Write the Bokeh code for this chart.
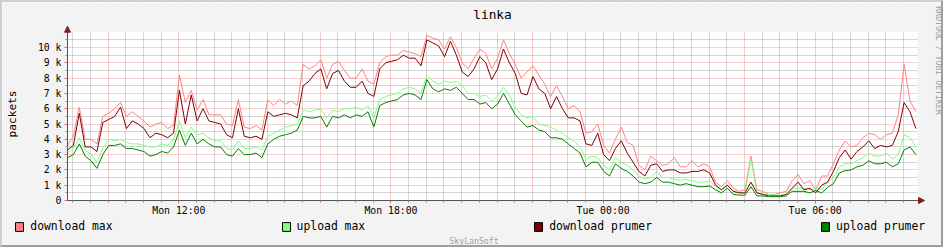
from math import pi, nan
from bokeh.plotting import figure
from bokeh.models import (Range1d, FixedTicker, Legend, LegendItem, Arrow, Label,
                          NormalHead, ColumnDataSource, BoxAnnotation)
from bokeh.embed import file_html
from bokeh.resources import INLINE

# ---------------- data (values in thousands of packets, 10-minute steps) ----------------
start_hour = 8.85          # Mon 08:51
step_hours = 1.0 / 6.0     # 10 minutes

download_max = [
    3.6, 4.2, 6.1, 4.0, 4.0, 3.7, 5.5, 5.7, 6.0, 6.4, 5.5, 5.8, 5.5, 5.2, 4.8, 5.0, 5.1, 4.7, 4.9, 8.2, 6.4, 7.2, 5.9, 6.6, 5.6,
    5.6, 5.6, 5.0, 4.9, 6.6, 4.8, 4.7, 4.9, 4.6, 6.6, 6.2, 6.6, 6.3, 6.5, 6.2, 8.9, 8.6, 8.8, 9.2, 8.0, 8.9, 9.1, 8.5, 8.0,
    8.0, 8.6, 7.8, 7.6, 9.0, 9.4, 9.5, 9.5, 9.8, 9.7, 9.6, 9.4, 10.8, 10.6, 10.5, 9.9, 10.7, 10.0, 9.0, 8.6, 9.3, 9.9, 9.6, 8.6,
    9.3, 10.5, 9.6, 8.9, 8.0, 8.4, 8.8, 8.2, 7.6, 6.8, 7.5, 6.8, 6.0, 6.2, 5.8, 4.4, 4.5, 5.0, 3.6, 3.1, 4.0, 4.8, 3.8, 3.6,
    2.3, 2.0, 2.9, 2.6, 2.3, 2.4, 2.8, 2.2, 2.2, 2.6, 2.2, 2.4, 2.2, 1.2, 0.9, 1.3, 0.8, 0.6, 0.7, 2.9, 0.7, 0.6, 0.4, 0.4,
    0.5, 0.6, 1.3, 1.7, 1.1, 1.3, 0.7, 1.6, 1.6, 2.4, 3.3, 3.9, 3.5, 3.6, 4.1, 4.4, 4.3, 4.0, 4.3, 4.4, 5.6, 8.9, 6.5, 5.8,
]
upload_max = [
    3.1, 3.4, 4.1, 3.3, 3.0, 2.5, 3.4, 4.0, 3.9, 4.0, 3.8, 3.7, 3.7, 3.6, 3.5, 3.5, 3.7, 3.6, 4.0, 5.2, 4.1, 4.8, 4.3, 4.4, 4.1,
    3.9, 3.9, 3.4, 3.3, 3.9, 3.4, 3.4, 3.5, 3.3, 4.2, 4.4, 4.6, 4.8, 4.9, 5.0, 5.9, 5.8, 5.9, 6.0, 5.4, 5.9, 5.8, 6.0, 6.0,
    6.1, 5.9, 6.2, 5.4, 6.6, 6.8, 6.9, 7.0, 7.3, 7.4, 7.3, 7.0, 8.2, 7.8, 7.6, 7.8, 7.7, 7.8, 7.5, 7.0, 7.0, 6.8, 6.9, 6.5,
    6.8, 7.4, 6.9, 6.1, 5.6, 5.4, 5.5, 5.0, 4.9, 4.8, 4.6, 4.4, 4.1, 3.9, 3.5, 2.7, 2.9, 2.8, 2.3, 2.0, 2.8, 2.5, 2.3, 2.0,
    1.6, 1.4, 1.5, 1.9, 1.5, 1.5, 1.4, 1.3, 1.4, 1.3, 1.2, 1.2, 1.3, 0.9, 0.7, 1.0, 0.6, 0.5, 0.5, 2.7, 0.5, 0.4, 0.4, 0.35,
    0.35, 0.4, 0.8, 0.8, 0.8, 0.7, 0.8, 0.7, 1.2, 1.5, 2.2, 2.4, 2.4, 2.6, 2.8, 3.1, 2.9, 2.9, 3.1, 2.7, 3.0, 4.3, 4.1, 3.5,
]
download_prumer = [
    3.3, 3.6, 5.7, 3.5, 3.5, 3.2, 5.1, 5.3, 5.5, 6.1, 4.7, 5.2, 5.0, 4.7, 4.1, 4.4, 4.3, 4.1, 4.4, 7.2, 5.0, 6.9, 5.2, 6.0, 5.2,
    5.1, 5.0, 4.3, 4.1, 6.0, 4.2, 4.1, 4.2, 4.0, 5.8, 5.5, 5.6, 5.7, 5.6, 5.4, 7.5, 7.8, 8.3, 8.6, 7.3, 8.3, 8.5, 7.8, 7.4,
    7.4, 7.8, 7.0, 6.8, 8.6, 9.0, 9.1, 9.2, 9.5, 9.3, 9.3, 8.8, 10.5, 10.3, 10.1, 9.4, 10.4, 9.5, 8.4, 8.1, 8.6, 9.4, 9.0, 7.9,
    8.6, 9.9, 9.0, 8.3, 7.0, 6.9, 8.1, 7.3, 7.0, 6.0, 6.8, 6.0, 5.4, 5.4, 5.2, 3.7, 3.6, 4.4, 3.0, 2.6, 3.4, 3.9, 3.1, 2.5,
    1.9, 1.6, 2.3, 2.4, 1.9, 2.0, 2.0, 1.8, 1.8, 1.9, 1.9, 2.0, 1.8, 1.0, 0.7, 1.0, 0.6, 0.5, 0.5, 1.2, 0.5, 0.4, 0.3, 0.3,
    0.3, 0.4, 0.8, 1.2, 0.7, 0.8, 0.5, 1.0, 1.2, 1.9, 2.8, 3.3, 2.7, 3.2, 3.5, 3.9, 3.4, 3.6, 3.5, 3.6, 4.5, 6.4, 5.8, 4.7,
]
upload_prumer = [
    2.8, 3.0, 3.7, 2.9, 2.6, 2.1, 3.0, 3.6, 3.6, 3.7, 3.4, 3.4, 3.3, 3.2, 2.9, 3.0, 3.2, 3.1, 3.5, 4.6, 3.6, 4.4, 3.7, 4.0, 3.7,
    3.5, 3.5, 3.0, 2.9, 3.4, 3.0, 3.0, 3.1, 2.8, 3.7, 4.0, 4.2, 4.3, 4.4, 4.6, 5.5, 5.4, 5.4, 5.5, 4.8, 5.5, 5.4, 5.6, 5.4,
    5.6, 5.5, 5.8, 4.8, 6.2, 6.4, 6.5, 6.6, 6.9, 7.0, 6.9, 6.6, 7.9, 7.3, 7.1, 7.3, 7.2, 7.4, 7.0, 6.6, 6.6, 6.3, 6.4, 6.0,
    6.3, 7.0, 6.3, 5.6, 5.2, 4.8, 4.9, 4.6, 4.5, 4.1, 4.1, 4.0, 3.7, 3.4, 3.1, 2.2, 2.5, 2.5, 1.9, 1.6, 2.4, 2.1, 1.9, 1.6,
    1.2, 1.1, 1.2, 1.5, 1.2, 1.2, 1.1, 1.0, 1.1, 1.0, 0.9, 0.9, 0.95, 0.7, 0.5, 0.8, 0.4, 0.35, 0.35, 0.9, 0.3, 0.3, 0.25, 0.25,
    0.25, 0.3, 0.6, 0.6, 0.6, 0.5, 0.65, 0.5, 0.85, 1.1, 1.8, 1.95, 2.0, 2.2, 2.3, 2.6, 2.4, 2.4, 2.5, 2.2, 2.4, 3.3, 3.5, 3.0,
]

legend_labels = ["download max", "upload max", "download prumer", "upload prumer"]
series_colors = ["#FF8080", "#80FF80", "#800000", "#008000"]

x_tick_hours = [12, 18, 24, 30]
x_tick_labels = ["Mon 12:00", "Mon 18:00", "Tue 00:00", "Tue 06:00"]
y_tick_values = [0, 1, 2, 3, 4, 5, 6, 7, 8, 9, 10]
y_tick_labels = ["0", "1 k", "2 k", "3 k", "4 k", "5 k", "6 k", "7 k", "8 k", "9 k", "10 k"]

title_text = "linka"
y_label = "packets"
watermark_side = "RRDTOOL / TOBI OETIKER"
watermark_bottom = "SkyLanSoft"

# ---------------- geometry / style ----------------
# The plot frame covers the whole canvas (943x247 inside a 2px 3D border);
# axes are pinned at the data origin so every text lies inside the frame.
FONT = "DejaVu Sans Mono"
BG = "#F3F3F3"
SHADE_A, SHADE_B = "#CFCFCF", "#9E9E9E"
W, H = 943, 247
px_per_hour = 35.35
px_per_k = 15.3
org_x, org_y = 65, 198             # canvas pixel of the data origin
data_w = 850
data_y_top = 11.0
data_x_end = start_hour + data_w / px_per_hour
x_lo = start_hour - org_x / px_per_hour
x_hi = start_hour + (W - org_x) / px_per_hour
y_lo = -(H - org_y) / px_per_k
y_hi = org_y / px_per_k
axis_x_end = start_hour + (data_w + 6) / px_per_hour
axis_y_end = data_y_top + 5 / px_per_k
axis_col = "#555555"
arrow_col = "#801F1F"
mgrid_col, mgrid_alpha = "#DE4F4F", 0.6
grid_col, grid_alpha = "#8F8F8F", 0.75

times = [start_hour + i * step_hours for i in range(len(download_max))]
src = ColumnDataSource(dict(t=times, dmax=download_max, umax=upload_max,
                            davg=download_prumer, uavg=upload_prumer))

p = figure(width=W, height=H, output_backend="svg", toolbar_location=None,
           title=None,
           x_range=Range1d(x_lo, x_hi), y_range=Range1d(y_lo, y_hi),
           min_border=0, min_border_left=0, min_border_right=0,
           min_border_top=0, min_border_bottom=0,
           background_fill_color="white", border_fill_color=BG,
           outline_line_color=None,
           styles={"border-top": f"2px solid {SHADE_A}", "border-left": f"2px solid {SHADE_A}",
                   "border-bottom": f"2px solid {SHADE_B}", "border-right": f"2px solid {SHADE_B}"})

# grids
two_hours = [h for h in range(10, 33, 2)]
half_hours = [h / 2 for h in range(18, 66) if (h / 2) not in two_hours and h / 2 < data_x_end]
p.xgrid.ticker = FixedTicker(ticks=two_hours, minor_ticks=half_hours)
p.xgrid.grid_line_color = mgrid_col
p.xgrid.grid_line_alpha = mgrid_alpha
p.xgrid.grid_line_dash = "1 1"
p.xgrid.minor_grid_line_color = grid_col
p.xgrid.minor_grid_line_alpha = grid_alpha
p.xgrid.minor_grid_line_dash = "1 1"

y_minor = [v + 0.5 for v in y_tick_values]
p.ygrid.ticker = FixedTicker(ticks=y_tick_values[1:], minor_ticks=y_minor)
p.ygrid.grid_line_color = mgrid_col
p.ygrid.grid_line_alpha = 0.5
p.ygrid.grid_line_dash = "1 1"
p.ygrid.minor_grid_line_color = grid_col
p.ygrid.minor_grid_line_alpha = grid_alpha
p.ygrid.minor_grid_line_dash = "1 1"

# everything outside the data canvas gets the page background
for kw in (dict(right=start_hour), dict(left=data_x_end), dict(bottom=data_y_top), dict(top=0)):
    p.add_layout(BoxAnnotation(fill_color=BG, fill_alpha=1, line_color=None,
                               level="underlay", **kw))

# axes pinned at the origin
x_minor = [h / 2 for h in range(18, 66) if (h / 2) not in x_tick_hours and h / 2 < data_x_end]
p.xaxis.ticker = FixedTicker(ticks=x_tick_hours, minor_ticks=x_minor)
p.xaxis.major_label_overrides = dict(zip(x_tick_hours, x_tick_labels))
p.xaxis.fixed_location = 0
p.xaxis.bounds = (start_hour, axis_x_end)
p.yaxis.ticker = FixedTicker(ticks=y_tick_values, minor_ticks=y_minor)
p.yaxis.major_label_overrides = dict(zip(y_tick_values, y_tick_labels))
p.yaxis.fixed_location = start_hour
p.yaxis.bounds = (0, axis_y_end)
for ax in (p.xaxis, p.yaxis):
    ax.axis_line_color = axis_col
    ax.major_tick_line_color = mgrid_col
    ax.major_tick_line_alpha = 0.8
    ax.minor_tick_line_color = grid_col
    ax.major_tick_in = 0
    ax.minor_tick_in = 0
    ax.major_tick_out = 3
    ax.minor_tick_out = 2
    ax.major_label_standoff = 3
    ax.major_label_text_font = FONT
    ax.major_label_text_font_size = "9.8px"
    ax.major_label_text_color = "black"
p.xaxis.major_label_standoff = 1
p.yaxis.axis_label = y_label
p.yaxis.axis_label_text_font = FONT
p.yaxis.axis_label_text_font_size = "11.2px"
p.yaxis.axis_label_text_font_style = "normal"
p.yaxis.axis_label_text_color = "black"
p.yaxis.axis_label_standoff = 16

# series
cols = ["dmax", "umax", "davg", "uavg"]
for c, col in zip(cols, series_colors):
    p.line("t", c, source=src, line_color=col, line_width=1)

# axis arrow heads
p.add_layout(Arrow(end=NormalHead(size=6, fill_color=arrow_col, line_color=arrow_col, line_width=1),
                   x_start=data_x_end, y_start=0, x_end=axis_x_end + 1 / px_per_hour, y_end=0,
                   line_alpha=0))
p.add_layout(Arrow(end=NormalHead(size=6, fill_color=arrow_col, line_color=arrow_col, line_width=1),
                   x_start=start_hour, y_start=data_y_top, x_end=start_hour, y_end=axis_y_end + 1 / px_per_k,
                   line_alpha=0))

# title and watermarks (screen units relative to the frame = canvas)
p.add_layout(Label(x=490, y=H - 11.5, x_units="screen", y_units="screen", text=title_text,
                   text_align="center", text_baseline="middle", text_font=FONT,
                   text_font_size="12.8px", text_color="black"))
p.add_layout(Label(x=936, y=H - 58, x_units="screen", y_units="screen", text=watermark_side,
                   angle=-pi / 2, text_align="center", text_baseline="middle", text_font=FONT,
                   text_font_size="8.2px", text_color="#A0A0A0"))
p.add_layout(Label(x=471.5, y=9, x_units="screen", y_units="screen", text=watermark_bottom,
                   text_align="center", text_baseline="middle", text_font=FONT,
                   text_font_size="8.2px", text_color="#A0A0A0"))

# legend with square swatches (proxy quads hold no drawable coordinates)
items = []
for lab, col in zip(legend_labels, series_colors):
    r = p.quad(left=[nan], right=[nan], top=[nan], bottom=[nan],
               fill_color=col, line_color="black", line_width=1)
    items.append(LegendItem(label=lab, renderers=[r]))
legend = Legend(items=items, orientation="horizontal", location=(12.3, 15.6),
                ncols=4, nrows=1,
                padding=0, margin=0, spacing=168, glyph_width=10, glyph_height=11,
                label_height=11, label_standoff=6, background_fill_alpha=0,
                border_line_color=None, label_text_font=FONT,
                label_text_font_size="11.4px", label_text_color="black")
p.add_layout(legend, "center")

open("out.html", "w").write(file_html(p, INLINE))
